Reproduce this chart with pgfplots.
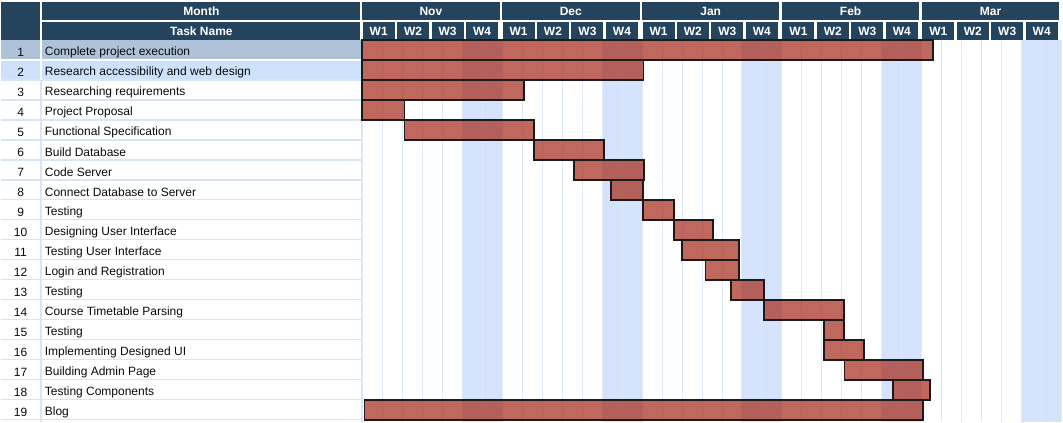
\documentclass[border=0pt]{standalone}
\usepackage{fontspec}
\setmainfont{Liberation Sans}
\usepackage{pgfplots}
\usepackage{pgfplotstable}
\pgfplotsset{compat=1.18}
\definecolor{hdr}{RGB}{36,67,93}
\definecolor{shadec}{RGB}{212,226,252}
\definecolor{gridc}{RGB}{222,233,249}
\definecolor{sepc}{RGB}{216,229,245}
\definecolor{sel1}{RGB}{174,195,218}
\definecolor{sel2}{RGB}{205,226,250}
\definecolor{barc}{RGB}{165,40,24}
\definecolor{txt}{RGB}{10,10,10}

% start and duration in grid-cell units (one cell = 1/7 month)
\pgfplotstableread{
row start dur
1  0.00 28.58
2  0.00 14.08
3  0.00 8.08
4  0.00 2.12
5  2.12 6.50
6  8.62 3.48
7  10.62 3.48
8  12.43 1.64
9  14.07 1.53
10 15.60 1.95
11 16.00 2.85
12 17.18 1.67
13 18.47 1.63
14 20.10 4.00
15 23.10 1.00
16 23.10 2.00
17 24.13 3.95
18 26.58 1.84
19 0.12 27.96
}\tasks

\pgfplotsset{gantt/.style={
  width=797.25pt, height=316.5pt, scale only axis,
  xmin=-18.085, xmax=35.065, ymin=-1.5, ymax=19.6,
  y dir=reverse, hide axis, clip=false, at={(0,0)}, anchor=south west}}

\newcommand\fs{\fontsize{9pt}{11pt}\selectfont}
\newcommand\week[1]{%
  \fill[hdr] (axis cs:{#1},-0.415) rectangle (axis cs:{#1+1.6},0.5);
}
\newcommand\weeklab[2]{%
  \node[text=white,font=\fs\bfseries] at (axis cs:{#1+0.8},0.07) {#2};
}
\newcommand\monthbg[1]{%
  \fill[hdr] (axis cs:#1,-1.415) rectangle (axis cs:{#1+6.88},-0.5);
  \week{#1+0.03}
  \week{#1+1.75}
  \week{#1+3.475}
  \week{#1+5.2}
  \fill[shadec] (axis cs:{#1+5},0.5) rectangle (axis cs:{#1+7},19.6);
}
\newcommand\monthlab[2]{%
  \node[text=white,font=\fs\bfseries] at (axis cs:{#1+3.44},-0.94) {#2};
  \weeklab{#1+0.03}{W1}
  \weeklab{#1+1.75}{W2}
  \weeklab{#1+3.475}{W3}
  \weeklab{#1+5.2}{W4}
}
\newcommand\taskrow[3]{%
  \node[text=txt,font=\fs] at (axis cs:-17.085,#1+0.11) {#2};
  \node[text=txt,font=\fs,anchor=west,inner sep=0pt] at (axis cs:-15.885,#1+0.11) {#3};
}

\begin{document}
\fs
\begin{tikzpicture}
% backgrounds
\begin{axis}[gantt]
\addplot[draw=none] coordinates {(0,1)};
\path (axis cs:-18.085,-1.5) rectangle (axis cs:35.065,19.6);
\fill[hdr] (axis cs:-18.085,-1.415) rectangle (axis cs:-16.135,0.5);
\fill[hdr] (axis cs:-16.0,-1.415) rectangle (axis cs:-0.085,-0.5);
\fill[hdr] (axis cs:-16.0,-0.415) rectangle (axis cs:-0.085,0.5);
\monthbg{0}
\monthbg{7}
\monthbg{14}
\monthbg{21}
\monthbg{28}
\fill[sel1] (axis cs:-18.085,0.5) rectangle (axis cs:-0.05,1.5);
\fill[sel2] (axis cs:-18.085,1.5) rectangle (axis cs:-0.05,2.5);
\end{axis}
% grid lines and separators
\begin{axis}[gantt]
\addplot[draw=none] coordinates {(0,1)};
\pgfplotsinvokeforeach{0,...,35}{
  \draw[gridc,line width=0.6pt] (axis cs:#1,0.5) -- (axis cs:#1,19.6);
}
\pgfplotsinvokeforeach{2.5,3.5,...,19.5}{
  \draw[sepc,line width=0.9pt] (axis cs:-18.085,#1) -- (axis cs:-0.05,#1);
}
\draw[white,line width=0.9pt] (axis cs:-18.085,1.5) -- (axis cs:-0.05,1.5);
\draw[sepc,line width=1.3pt] (axis cs:-16.07,2.5) -- (axis cs:-16.07,19.6);
\draw[white,line width=1.3pt] (axis cs:-16.07,0.5) -- (axis cs:-16.07,2.5);
\draw[sepc,line width=0.9pt] (axis cs:-0.03,0.5) -- (axis cs:-0.03,19.6);
\end{axis}
% gantt bars
\begin{axis}[gantt, xbar stacked, bar width=1]
\addplot[draw=none,fill=none] table[x=start,y=row] {\tasks};
\addplot[fill=barc,fill opacity=0.7,draw={rgb,255:red,30;green,25;blue,25},line width=1.4pt] table[x=dur,y=row] {\tasks};
\end{axis}
% text
\begin{axis}[gantt]
\addplot[draw=none] coordinates {(0,1)};
\node[text=white,font=\fs\bfseries] at (axis cs:-8.04,-0.94) {Month};
\node[text=white,font=\fs\bfseries] at (axis cs:-8.04,0.07) {Task Name};
\monthlab{0}{Nov}
\monthlab{7}{Dec}
\monthlab{14}{Jan}
\monthlab{21}{Feb}
\monthlab{28}{Mar}
\taskrow{1}{1}{Complete project execution}
\taskrow{2}{2}{Research accessibility and web design}
\taskrow{3}{3}{Researching requirements}
\taskrow{4}{4}{Project Proposal}
\taskrow{5}{5}{Functional Specification}
\taskrow{6}{6}{Build Database}
\taskrow{7}{7}{Code Server}
\taskrow{8}{8}{Connect Database to Server}
\taskrow{9}{9}{Testing}
\taskrow{10}{10}{Designing User Interface}
\taskrow{11}{11}{Testing User Interface}
\taskrow{12}{12}{Login and Registration}
\taskrow{13}{13}{Testing}
\taskrow{14}{14}{Course Timetable Parsing}
\taskrow{15}{15}{Testing}
\taskrow{16}{16}{Implementing Designed UI}
\taskrow{17}{17}{Building Admin Page}
\taskrow{18}{18}{Testing Components}
\taskrow{19}{19}{Blog}
\end{axis}
\end{tikzpicture}
\end{document}
